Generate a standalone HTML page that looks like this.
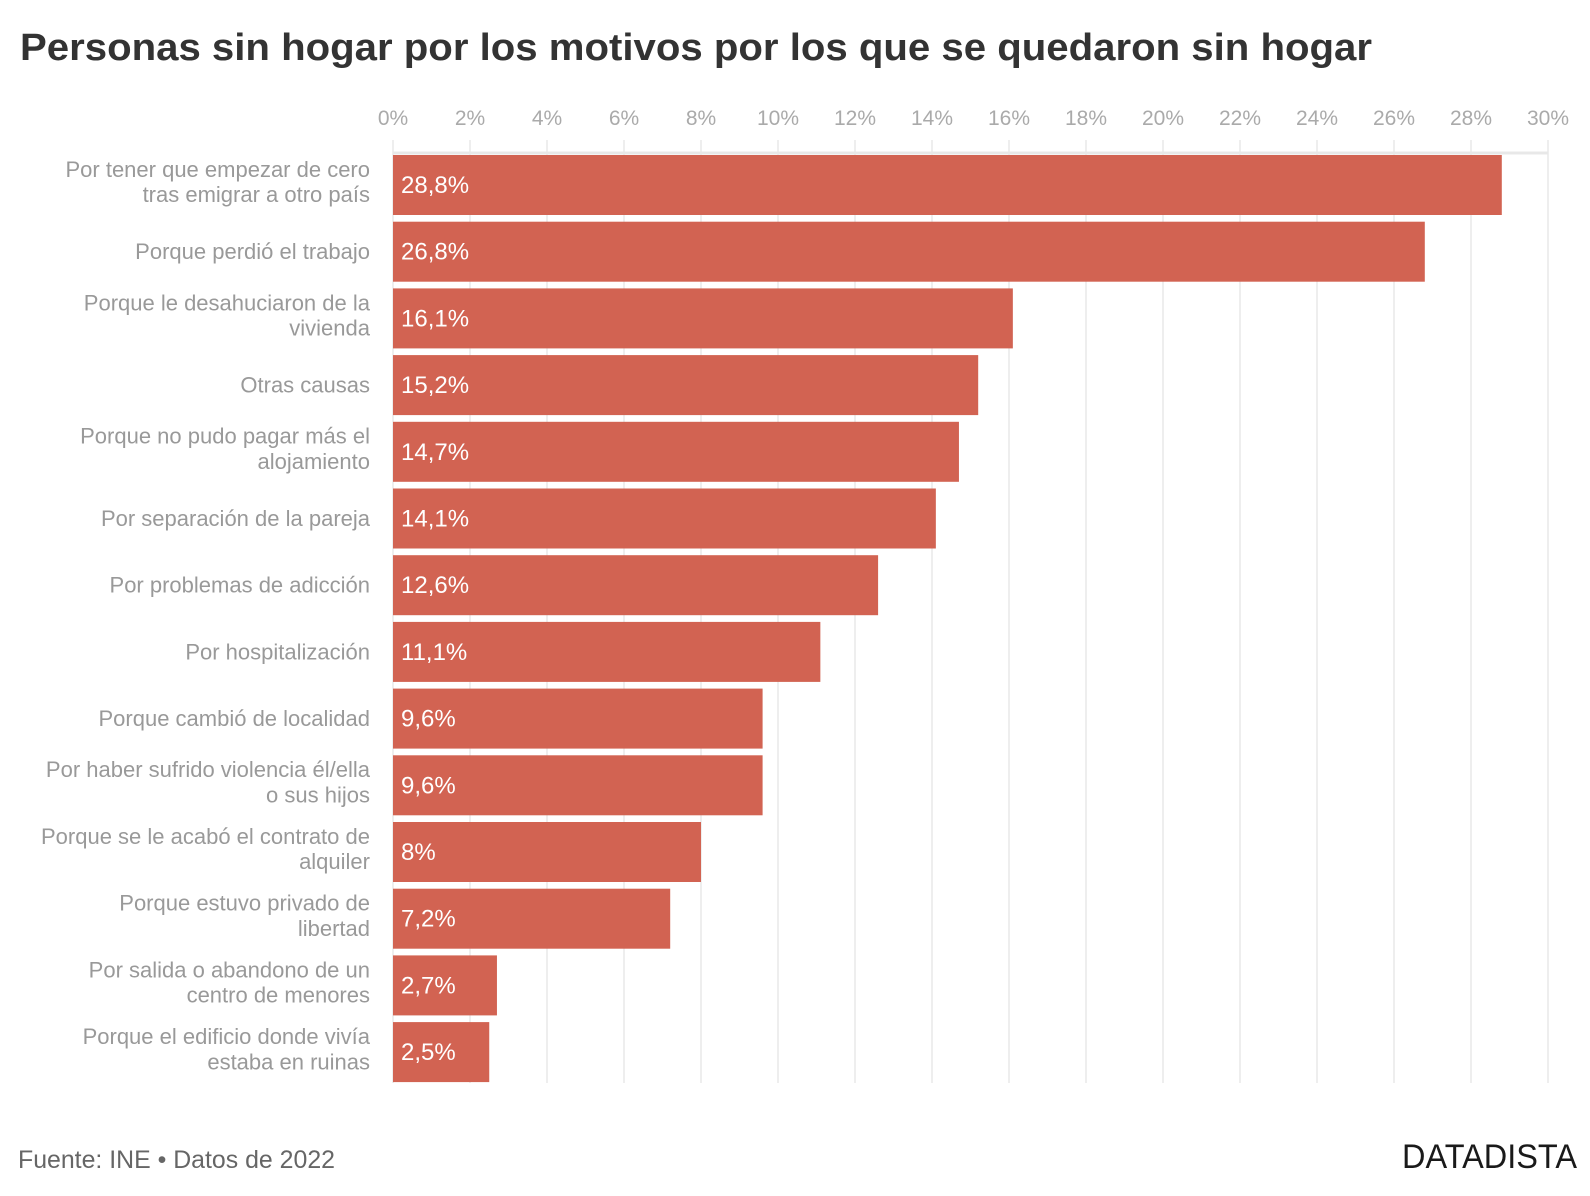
<!DOCTYPE html>
<html><head><meta charset="utf-8"><style>
html,body{margin:0;padding:0;background:#fff;}
svg{display:block;font-family:"Liberation Sans",sans-serif;}
</style></head><body>
<svg id="chart" width="1590" height="1196" viewBox="0 0 1590 1196">
<text x="20" y="60" font-size="38" font-weight="bold" fill="#333" textLength="1352" lengthAdjust="spacingAndGlyphs">Personas sin hogar por los motivos por los que se quedaron sin hogar</text>
<g id="grid"></g><g id="bars"></g>
<text x="18" y="1168" font-size="25" fill="#666" textLength="317" lengthAdjust="spacingAndGlyphs">Fuente: INE • Datos de 2022</text>
<text x="1402" y="1168" font-size="34" fill="#1a1a1a" textLength="175" lengthAdjust="spacingAndGlyphs">DATADISTA</text>
</svg>
<script>
const categories=[["Por tener que empezar de cero","tras emigrar a otro país"],["Porque perdió el trabajo"],["Porque le desahuciaron de la","vivienda"],["Otras causas"],["Porque no pudo pagar más el","alojamiento"],["Por separación de la pareja"],["Por problemas de adicción"],["Por hospitalización"],["Porque cambió de localidad"],["Por haber sufrido violencia él/ella","o sus hijos"],["Porque se le acabó el contrato de","alquiler"],["Porque estuvo privado de","libertad"],["Por salida o abandono de un","centro de menores"],["Porque el edificio donde vivía","estaba en ruinas"]];
const values=[28.8,26.8,16.1,15.2,14.7,14.1,12.6,11.1,9.6,9.6,8,7.2,2.7,2.5];
const ticks=[0,2,4,6,8,10,12,14,16,18,20,22,24,26,28,30];
const NS="http://www.w3.org/2000/svg";
const x0=393,x1=1548,xmax=30,top0=155,step=66.7,bh=60,plotBottom=1083;
const xs=v=>x0+(x1-x0)*v/xmax;
const ys=i=>top0+i*step;
function mk(tag,attrs,parent){const e=document.createElementNS(NS,tag);for(const k in attrs)e.setAttribute(k,attrs[k]);parent.appendChild(e);return e;}
const grid=document.getElementById('grid'),bars=document.getElementById('bars');
ticks.forEach(t=>{
 const l=mk('line',{x1:xs(t),x2:xs(t),y1:140,y2:plotBottom,stroke:'#eeeeee','stroke-width':2},grid);
 
 
 const tx=mk('text',{x:xs(t),y:125,'font-size':21,fill:'#aaa','text-anchor':'middle'},grid);
 tx.textContent=t+'%';
 
 
});
const ax=mk('line',{x1:x0,x2:x1,y1:153,y2:153,stroke:'#e8e8e8','stroke-width':3},grid);


values.forEach((v,i)=>{
 const y=ys(i);
 const r=mk('rect',{x:x0,y:y,width:xs(v)-x0,height:bh,fill:'#d26352'},bars);
 
 
 const vt=mk('text',{x:x0+8,y:y+bh/2+8,'font-size':24,fill:'#fff'},bars);
 vt.textContent=String(v).replace('.',',')+'%';
 
 
 const lines=categories[i];
 const cy=y+bh/2-(lines.length>1?3:0);
 lines.forEach((ln,j)=>{
  const off=(j-(lines.length-1)/2)*25.3;
  const lt=mk('text',{x:370,y:cy+off+7.5,'font-size':22,fill:'#999','text-anchor':'end'},bars);
  lt.textContent=ln;
  
  
 });
});
</script>
</body></html>
